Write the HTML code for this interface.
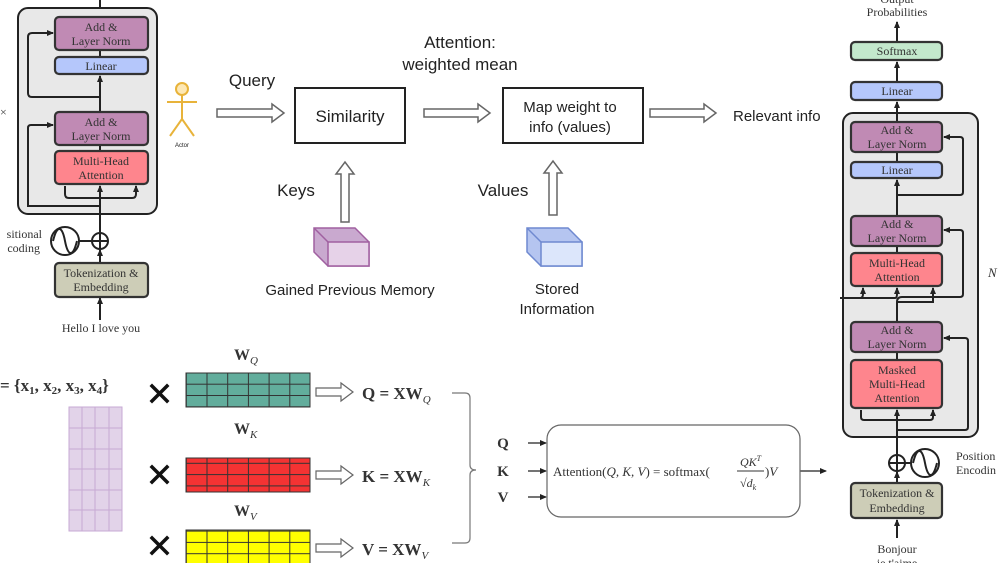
<!DOCTYPE html>
<html><head><meta charset="utf-8"><style>
html,body{margin:0;padding:0;background:#fff;}
svg{display:block}
.s{font-family:"Liberation Serif",serif;fill:#333}
.a{font-family:"Liberation Sans",sans-serif;fill:#222}
.bx{stroke:#333;stroke-width:2.2}
</style></head><body>
<svg width="1000" height="563" viewBox="0 0 1000 563" xmlns="http://www.w3.org/2000/svg">
<defs>
<marker id="ah" markerWidth="8" markerHeight="8" refX="6" refY="4" orient="auto" markerUnits="userSpaceOnUse"><path d="M0,1 L7,4 L0,7z" fill="#222"/></marker>
<pattern id="g" width="20.7" height="11.3" patternUnits="userSpaceOnUse"><rect width="20.7" height="11.3" fill="none" stroke="#333" stroke-width="1"/></pattern>
</defs>

<!-- LEFT ENCODER -->
<line x1="100" y1="0" x2="100" y2="17" stroke="#222" stroke-width="2"/>
<rect x="18" y="8" width="139" height="206" rx="10" fill="#e8e8e8" stroke="#222" stroke-width="2"/>
<line x1="100" y1="320" x2="100" y2="298" stroke="#222" stroke-width="2" marker-end="url(#ah)"/>
<line x1="100" y1="263" x2="100" y2="250" stroke="#222" stroke-width="2" marker-end="url(#ah)"/>
<line x1="100" y1="232" x2="100" y2="186" stroke="#222" stroke-width="2" marker-end="url(#ah)"/>
<line x1="100" y1="112" x2="100" y2="76" stroke="#222" stroke-width="2" marker-end="url(#ah)"/>
<line x1="100" y1="50" x2="100" y2="57" stroke="#222" stroke-width="2"/>
<line x1="100" y1="145" x2="100" y2="151" stroke="#222" stroke-width="2"/>
<path d="M100,206 H28 V128 Q28,125 31,125 H53" fill="none" stroke="#222" stroke-width="2" marker-end="url(#ah)"/>
<path d="M100,97 H32 Q28,97 28,93 V37 Q28,33 32,33 H53" fill="none" stroke="#222" stroke-width="2" marker-end="url(#ah)"/>
<path d="M100,198 H69 Q65,198 65,194 V186 M100,198 H132 Q136,198 136,194 V186" fill="none" stroke="#222" stroke-width="2" marker-end="url(#ah)"/>
<rect class="bx" x="55" y="17" width="93" height="33" rx="4" fill="#c08ab4"/>
<text class="s" x="101" y="31" font-size="12" text-anchor="middle">Add &amp;</text>
<text class="s" x="101" y="45" font-size="12" text-anchor="middle">Layer Norm</text>
<rect class="bx" x="55" y="57" width="93" height="17" rx="4" fill="#b5c7fb"/>
<text class="s" x="101" y="70" font-size="12" text-anchor="middle">Linear</text>
<rect class="bx" x="55" y="112" width="93" height="33" rx="4" fill="#c08ab4"/>
<text class="s" x="101" y="126" font-size="12" text-anchor="middle">Add &amp;</text>
<text class="s" x="101" y="140" font-size="12" text-anchor="middle">Layer Norm</text>
<rect class="bx" x="55" y="151" width="93" height="33" rx="4" fill="#fe858d"/>
<text class="s" x="101" y="165" font-size="12" text-anchor="middle">Multi-Head</text>
<text class="s" x="101" y="179" font-size="12" text-anchor="middle">Attention</text>
<circle cx="100" cy="241" r="8" fill="none" stroke="#222" stroke-width="2"/>
<path d="M92,241 H108 M100,233 V249" stroke="#222" stroke-width="2"/>
<line x1="79" y1="241" x2="92" y2="241" stroke="#222" stroke-width="2"/>
<circle cx="65" cy="241" r="14" fill="none" stroke="#222" stroke-width="2"/>
<path d="M53,241 C57,225 62,225 65,241 C68,257 73,257 77,241" fill="none" stroke="#222" stroke-width="2"/>
<text class="s" x="42" y="238" font-size="12" text-anchor="end">sitional</text>
<text class="s" x="40" y="252" font-size="12" text-anchor="end">coding</text>
<text class="s" x="0" y="116" font-size="12">×</text>
<rect class="bx" x="55" y="263" width="93" height="34" rx="4" fill="#cdcdb7"/>
<text class="s" x="101" y="277" font-size="12" text-anchor="middle">Tokenization &amp;</text>
<text class="s" x="101" y="291" font-size="12" text-anchor="middle">Embedding</text>
<text class="s" x="101" y="332" font-size="12" text-anchor="middle">Hello I love you</text>

<!-- ACTOR -->
<g stroke="#e8b33a" stroke-width="2" fill="none">
<circle cx="182" cy="89" r="6" fill="#fde8b5"/>
<path d="M182,95 V119 M167,102 H197 M182,119 L170,136 M182,119 L194,136"/>
</g>
<text class="a" x="182" y="147" font-size="6" text-anchor="middle">Actor</text>

<!-- TOP FLOW -->
<g fill="#fff" stroke="#666" stroke-width="1.5">
<path d="M217,109 H272 V104 L284,113 L272,122 V117 H217Z"/>
<path d="M424,109 H478 V104 L490,113 L478,122 V117 H424Z"/>
<path d="M650,109 H704 V104 L716,113 L704,122 V117 H650Z"/>
<path d="M341,222 V174 H336 L345,162 L354,174 H349 V222Z"/>
<path d="M549,215 V173 H544 L553,161 L562,173 H557 V215Z"/>
</g>
<text class="a" x="252" y="86" font-size="17" text-anchor="middle">Query</text>
<rect x="295" y="88" width="110" height="55" fill="#fff" stroke="#222" stroke-width="2"/>
<text class="a" x="350" y="122" font-size="17" text-anchor="middle">Similarity</text>
<text class="a" x="460" y="48" font-size="17" text-anchor="middle">Attention:</text>
<text class="a" x="460" y="70" font-size="17" text-anchor="middle">weighted mean</text>
<rect x="503" y="88" width="140" height="55" fill="#fff" stroke="#222" stroke-width="2"/>
<text class="a" x="570" y="112" font-size="15" text-anchor="middle">Map weight to</text>
<text class="a" x="570" y="132" font-size="15" text-anchor="middle">info (values)</text>
<text class="a" x="733" y="121" font-size="15">Relevant info</text>
<text class="a" x="296" y="196" font-size="17" text-anchor="middle">Keys</text>
<text class="a" x="503" y="196" font-size="17" text-anchor="middle">Values</text>
<g stroke="#a060a0" stroke-width="1.5">
<path d="M314,228 H355 L369,242 V266 H328 L314,252Z" fill="#c9a9cf"/>
<rect x="328" y="242" width="41" height="24" fill="#e6d2e8"/>
<path d="M314,228 L328,242" fill="none"/>
</g>
<g stroke="#6f89d0" stroke-width="1.5">
<path d="M527,228 H568 L582,242 V266 H541 L527,252Z" fill="#b5c5f0"/>
<rect x="541" y="242" width="41" height="24" fill="#dce6fb"/>
<path d="M527,228 L541,242" fill="none"/>
</g>
<text class="a" x="350" y="295" font-size="15" text-anchor="middle">Gained Previous Memory</text>
<text class="a" x="557" y="294" font-size="15" text-anchor="middle">Stored</text>
<text class="a" x="557" y="314" font-size="15" text-anchor="middle">Information</text>

<!-- BOTTOM MATRICES -->
<text class="s" x="0" y="391" font-size="17" font-weight="bold">= {x<tspan font-size="11" dy="3">1</tspan><tspan dy="-3">, x</tspan><tspan font-size="11" dy="3">2</tspan><tspan dy="-3">, x</tspan><tspan font-size="11" dy="3">3</tspan><tspan dy="-3">, x</tspan><tspan font-size="11" dy="3">4</tspan><tspan dy="-3">}</tspan></text>
<rect x="69" y="407" width="53" height="124" fill="#e2d3e9" stroke="#c7a9d4"/>
<g stroke="#c7a9d4" stroke-width="1"><path d="M82,407V531M95,407V531M109,407V531M69,428H122M69,449H122M69,469H122M69,490H122M69,510H122"/></g>
<g stroke="#111" stroke-width="3.5" stroke-linecap="square">
<path d="M152,386 L167,401 M167,386 L152,401"/>
<path d="M152,467 L167,482 M167,467 L152,482"/>
<path d="M152,538 L167,553 M167,538 L152,553"/>
</g>
<rect x="186" y="373" width="124" height="34" fill="#62ad9c"/><rect x="186" y="373" width="124" height="34" fill="url(#g)" stroke="#333"/>
<rect x="186" y="458" width="124" height="34" fill="#f43333"/><rect x="186" y="458" width="124" height="34" fill="url(#g)" stroke="#333"/>
<rect x="186" y="530" width="124" height="34" fill="#ffff00"/><rect x="186" y="530" width="124" height="34" fill="url(#g)" stroke="#333"/>
<text class="s" x="234" y="360" font-size="16" font-weight="bold">W<tspan font-size="11" dy="4" font-style="italic" font-weight="normal">Q</tspan></text>
<text class="s" x="234" y="434" font-size="16" font-weight="bold">W<tspan font-size="11" dy="4" font-style="italic" font-weight="normal">K</tspan></text>
<text class="s" x="234" y="516" font-size="16" font-weight="bold">W<tspan font-size="11" dy="4" font-style="italic" font-weight="normal">V</tspan></text>
<g fill="#fff" stroke="#666" stroke-width="1.2">
<path d="M316,388H341V383L353,392L341,401V396H316Z"/>
<path d="M316,471H341V466L353,475L341,484V479H316Z"/>
<path d="M316,544H341V539L353,548L341,557V552H316Z"/>
</g>
<g class="s" font-size="17" font-weight="bold" fill="#222">
<text x="362" y="399">Q =  XW<tspan font-size="11" dy="4" font-style="italic" font-weight="normal">Q</tspan></text>
<text x="362" y="482">K =  XW<tspan font-size="11" dy="4" font-style="italic" font-weight="normal">K</tspan></text>
<text x="362" y="555">V =  XW<tspan font-size="11" dy="4" font-style="italic" font-weight="normal">V</tspan></text>
</g>
<path d="M452,393 H465 Q470,393 470,398 V465 Q470,470 476,470 Q470,470 470,475 V538 Q470,543 465,543 H452" fill="none" stroke="#777" stroke-width="1.2"/>
<g class="s" font-size="15" font-weight="bold" fill="#222"><text x="503" y="448" text-anchor="middle">Q</text><text x="503" y="476" text-anchor="middle">K</text><text x="503" y="502" text-anchor="middle">V</text></g>
<g stroke="#222" stroke-width="1.2"><line x1="528" y1="443" x2="546" y2="443" marker-end="url(#ah)"/><line x1="528" y1="471" x2="546" y2="471" marker-end="url(#ah)"/><line x1="528" y1="497" x2="546" y2="497" marker-end="url(#ah)"/><line x1="800" y1="471" x2="826" y2="471" marker-end="url(#ah)"/></g>
<rect x="547" y="425" width="253" height="92" rx="14" fill="#fff" stroke="#666" stroke-width="1.2"/>
<text class="s" x="553" y="476" font-size="13">Attention(<tspan font-style="italic">Q, K, V</tspan>) = softmax(</text>
<text class="s" x="740" y="466" font-size="12" font-style="italic">QK<tspan font-size="8" dy="-5">T</tspan></text>
<line x1="737" y1="471" x2="764" y2="471" stroke="#333"/>
<text class="s" x="740" y="487" font-size="12">√<tspan font-style="italic">d</tspan><tspan font-size="8" dy="3" font-style="italic">k</tspan></text>
<text class="s" x="765" y="476" font-size="13">)<tspan font-style="italic">V</tspan></text>

<!-- RIGHT DECODER -->
<text class="s" x="897" y="3" font-size="12" text-anchor="middle">Output</text>
<text class="s" x="897" y="16" font-size="12" text-anchor="middle">Probabilities</text>
<g stroke="#222" stroke-width="2" fill="none">
<line x1="897" y1="42" x2="897" y2="22" marker-end="url(#ah)"/>
<line x1="897" y1="82" x2="897" y2="62" marker-end="url(#ah)"/>
<line x1="897" y1="122" x2="897" y2="102" marker-end="url(#ah)"/>
<line x1="897" y1="538" x2="897" y2="520" marker-end="url(#ah)"/>
<line x1="897" y1="483" x2="897" y2="472" marker-end="url(#ah)"/>
<line x1="897" y1="454" x2="897" y2="410" marker-end="url(#ah)"/>
</g>
<rect x="843" y="113" width="135" height="324" rx="10" fill="#e8e8e8" stroke="#222" stroke-width="2"/>
<g stroke="#222" stroke-width="2" fill="none">
<line x1="897" y1="113" x2="897" y2="122"/>
<line x1="897" y1="152" x2="897" y2="162"/>
<line x1="897" y1="246" x2="897" y2="253"/>
<line x1="897" y1="352" x2="897" y2="360"/>
<line x1="897" y1="437" x2="897" y2="410" marker-end="url(#ah)"/>
<line x1="897" y1="216" x2="897" y2="180" marker-end="url(#ah)"/>
<path d="M897,430 H965 Q968,430 968,427 V341 Q968,338 965,338 H944" marker-end="url(#ah)"/>
<path d="M897,420 H864 Q861,420 861,417 V410 M897,420 H930 Q933,420 933,417 V410" marker-end="url(#ah)"/>
<path d="M897,322 V302 Q897,297 902,297 H960 Q963,297 963,294 V233 Q963,230 960,230 H944" marker-end="url(#ah)"/>
<path d="M897,302 H933 V288" marker-end="url(#ah)"/>
<path d="M840,298 H895 Q897,298 897,294 V288" marker-end="url(#ah)"/>
<path d="M840,298 H860 Q863,298 863,294 V288" marker-end="url(#ah)"/>
<path d="M897,195 H960 Q963,195 963,192 V140 Q963,137 960,137 H944" marker-end="url(#ah)"/>
</g>
<rect class="bx" x="851" y="42" width="91" height="18" rx="4" fill="#c3e8cc"/>
<text class="s" x="897" y="55" font-size="12" text-anchor="middle">Softmax</text>
<rect class="bx" x="851" y="82" width="91" height="18" rx="4" fill="#b5c7fb"/>
<text class="s" x="897" y="95" font-size="12" text-anchor="middle">Linear</text>
<rect class="bx" x="851" y="122" width="91" height="30" rx="4" fill="#c08ab4"/>
<text class="s" x="897" y="134" font-size="12" text-anchor="middle">Add &amp;</text>
<text class="s" x="897" y="148" font-size="12" text-anchor="middle">Layer Norm</text>
<rect class="bx" x="851" y="162" width="91" height="16" rx="4" fill="#b5c7fb"/>
<text class="s" x="897" y="174" font-size="12" text-anchor="middle">Linear</text>
<rect class="bx" x="851" y="216" width="91" height="30" rx="4" fill="#c08ab4"/>
<text class="s" x="897" y="228" font-size="12" text-anchor="middle">Add &amp;</text>
<text class="s" x="897" y="242" font-size="12" text-anchor="middle">Layer Norm</text>
<rect class="bx" x="851" y="253" width="91" height="33" rx="4" fill="#fe858d"/>
<text class="s" x="897" y="267" font-size="12" text-anchor="middle">Multi-Head</text>
<text class="s" x="897" y="281" font-size="12" text-anchor="middle">Attention</text>
<rect class="bx" x="851" y="322" width="91" height="30" rx="4" fill="#c08ab4"/>
<text class="s" x="897" y="334" font-size="12" text-anchor="middle">Add &amp;</text>
<text class="s" x="897" y="348" font-size="12" text-anchor="middle">Layer Norm</text>
<rect class="bx" x="851" y="360" width="91" height="48" rx="4" fill="#fe858d"/>
<text class="s" x="897" y="374" font-size="12" text-anchor="middle">Masked</text>
<text class="s" x="897" y="388" font-size="12" text-anchor="middle">Multi-Head</text>
<text class="s" x="897" y="402" font-size="12" text-anchor="middle">Attention</text>
<text class="s" x="988" y="277" font-size="13" font-style="italic">N</text>
<circle cx="897" cy="463" r="8" fill="#fff" stroke="#222" stroke-width="2"/>
<path d="M889,463 H905 M897,455 V471" stroke="#222" stroke-width="2"/>
<line x1="905" y1="463" x2="911" y2="463" stroke="#222" stroke-width="2"/>
<circle cx="925" cy="463" r="14" fill="none" stroke="#222" stroke-width="2"/>
<path d="M913,463 C917,447 922,447 925,463 C928,479 933,479 937,463" fill="none" stroke="#222" stroke-width="2"/>
<text class="s" x="956" y="460" font-size="12">Position</text>
<text class="s" x="956" y="474" font-size="12">Encodin</text>
<rect class="bx" x="851" y="483" width="91" height="35" rx="4" fill="#cdcdb7"/>
<text class="s" x="897" y="497" font-size="12" text-anchor="middle">Tokenization &amp;</text>
<text class="s" x="897" y="512" font-size="12" text-anchor="middle">Embedding</text>
<text class="s" x="897" y="553" font-size="12" text-anchor="middle">Bonjour</text>
<text class="s" x="897" y="567" font-size="12" text-anchor="middle">je t'aime</text>
</svg>
</body></html>
